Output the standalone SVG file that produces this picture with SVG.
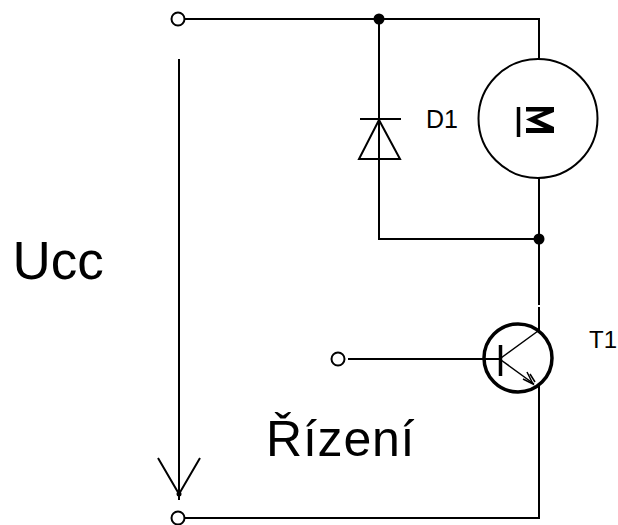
<svg xmlns="http://www.w3.org/2000/svg" width="618" height="525" viewBox="0 0 618 525">
<style>
.w{fill:none;stroke:#000;stroke-width:2}
.b{fill:none;stroke:#000;stroke-width:3.5}
.h{fill:none;stroke:#000;stroke-width:1.5}
.t{fill:#fff;stroke:#000;stroke-width:2}
.d{fill:#000}
text{font-family:"Liberation Sans",Arial,sans-serif;fill:#000}
</style>
<rect width="618" height="525" fill="#fff"/>
<g id="connectors">
<path class="w" d="M184 19H539V60"/>
<path class="w" d="M379 19V239H539"/>
<path class="w" d="M539 178V305M539 307V330"/>
<path class="w" d="M348 359H500"/>
<path class="w" d="M539 385V518H184"/>
<path class="w" d="M179 59V500"/>
<path class="w" d="M158 458L179 494L200 458"/>
</g>
<g id="terminal-top"><circle class="t" cx="178" cy="19" r="6.5"/></g>
<g id="terminal-bottom"><circle class="t" cx="178" cy="518" r="6.5"/></g>
<g id="terminal-control"><circle class="t" cx="338" cy="359" r="6.5"/></g>
<g id="junction-top"><circle class="d" cx="379" cy="19" r="5.5"/></g>
<g id="junction-mid"><circle class="d" cx="539" cy="239" r="5.5"/></g>
<g id="junction-arrow"><circle class="d" cx="179" cy="494" r="2.5"/></g>
<g id="D1">
<path class="w" d="M360 119H401M379 120L359 159H400Z"/>
<text x="426" y="128" font-size="25">D1</text>
</g>
<g id="motor">
<circle class="w" cx="538" cy="118.500" r="59.500"/>
<path class="b" d="M518.500 107V137"/>
<path class="d" d="M526 107H554V112L537 119L554 127V133H526V128H544L526 119.500L544 111.500H526Z"/>
</g>
<g id="T1">
<circle class="b" cx="518" cy="358" r="34"/>
<path class="b" d="M500.500 345V376"/>
<path class="h" d="M501 358L538 331M501 360L534 384"/>
<path class="h" d="M527 372L533 384L523 379M530 374L535 382"/>
<text x="589" y="348" font-size="24">T1</text>
</g>
<g id="labels">
<text x="12.500" y="279" font-size="53">Ucc</text>
<text x="266" y="456" font-size="50" letter-spacing="0.800">Řízení</text>
</g>
</svg>
